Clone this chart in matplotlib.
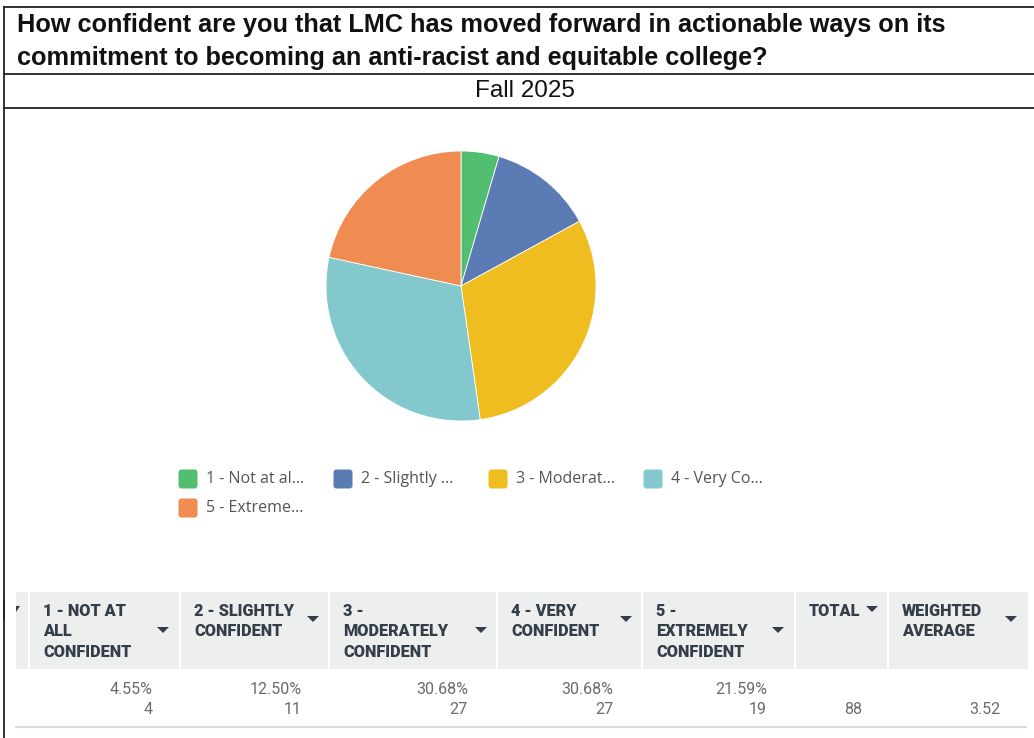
import matplotlib
matplotlib.use("Agg")
import matplotlib.pyplot as plt
from matplotlib.patches import Rectangle, FancyBboxPatch, Polygon

# Survey data
categories = ["1 - Not at all Confident", "2 - Slightly Confident",
              "3 - Moderately Confident", "4 - Very Confident",
              "5 - Extremely Confident"]
legend_labels = ["1 - Not at al...", "2 - Slightly ...", "3 - Moderat...",
                 "4 - Very Co...", "5 - Extreme..."]
counts = [4, 11, 27, 27, 19]
percents = ["4.55%", "12.50%", "30.68%", "30.68%", "21.59%"]
total = 88
weighted_average = 3.52
colors = ["#52BE70", "#5B7BB4", "#EFBD1F", "#83C8CC", "#F08B52"]

header_labels = [["1 - NOT AT", "ALL", "CONFIDENT"],
                 ["2 - SLIGHTLY", "CONFIDENT"],
                 ["3 -", "MODERATELY", "CONFIDENT"],
                 ["4 - VERY", "CONFIDENT"],
                 ["5 -", "EXTREMELY", "CONFIDENT"],
                 ["TOTAL"],
                 ["WEIGHTED", "AVERAGE"]]

title_lines = ["How confident are you that LMC has moved forward in actionable ways on its",
               "commitment to becoming an anti-racist and equitable college?"]
subtitle = "Fall 2025"

W, H = 1034, 738
fig = plt.figure(figsize=(W / 100, H / 100), dpi=100)
canvas = fig.add_axes([0, 0, 1, 1])
canvas.set_xlim(0, W)
canvas.set_ylim(H, 0)
canvas.axis("off")

# Frame lines
line_kw = dict(color="#222222", lw=1.3)
canvas.plot([4, W], [7, 7], **line_kw)
canvas.plot([4, W], [74, 74], **line_kw)
canvas.plot([4, W], [108, 108], **line_kw)
canvas.plot([4, 4], [7, H], **line_kw)

# Title
for i, t in enumerate(title_lines):
    canvas.text(17, 25 + i * 33, t, fontsize=18.2, fontweight="bold",
                family="Liberation Sans", color="#111111", va="center", ha="left")
canvas.text(525, 91, subtitle, fontsize=17.5, family="Liberation Sans",
            color="#111111", va="center", ha="center")

# Pie chart
cx, cy, r = 461, 286, 135
pie_ax = fig.add_axes([(cx - r) / W, 1 - (cy + r) / H, 2 * r / W, 2 * r / H])
pie_ax.pie(counts, colors=colors, startangle=90, counterclock=False,
           wedgeprops=dict(edgecolor="white", linewidth=0.6))
pie_ax.set_aspect("equal")
pie_ax.set_xlim(-1, 1)
pie_ax.set_ylim(-1, 1)

# Legend
leg_x = [178, 333, 488, 643, 178]
leg_y = [479, 479, 479, 479, 508]
for lx, ly, c, lab in zip(leg_x, leg_y, colors, legend_labels):
    canvas.add_patch(FancyBboxPatch((lx + 2, ly - 8), 16, 16,
                                    boxstyle="round,pad=1.5,rounding_size=3",
                                    facecolor=c, edgecolor="none"))
    canvas.text(lx + 28, ly, lab, fontsize=11.5, family="Open Sans",
                color="#555555", va="center", ha="left")

# Table header
hdr_top, hdr_bot = 592, 669
canvas.add_patch(Rectangle((16, hdr_top), 1028 - 16, hdr_bot - hdr_top,
                           facecolor="#EDEEEE", edgecolor="none"))
col_edges = [29, 180, 329, 497, 642, 795, 888, 1028]
for x in col_edges[:-1]:
    canvas.plot([x, x], [hdr_top, hdr_bot], color="white", lw=1.5)
    canvas.plot([x, x], [hdr_bot, 727], color="white", lw=1.5)
canvas.plot([16, 1026], [727, 727], color="#DCDCDC", lw=1.5)

hdr_color = "#333E48"
arrow_x = [163, 313, 481, 626, 778, 872, 1011]
arrow_y = [630, 619, 630, 619, 630, 609, 619]
for i, lines in enumerate(header_labels):
    x0 = col_edges[i] + 14
    for j, line in enumerate(lines):
        canvas.text(x0, 611 + j * 20.5, line, fontsize=11.7, fontweight="heavy",
                    family="Roboto", color=hdr_color, va="center", ha="left")
    ax_, ay_ = arrow_x[i], arrow_y[i]
    canvas.add_patch(Polygon([[ax_ - 6, ay_ - 3], [ax_ + 6, ay_ - 3], [ax_, ay_ + 3]],
                             closed=True, facecolor=hdr_color, edgecolor="none"))
# clipped arrow of the hidden leading column
canvas.add_patch(Polygon([[12, 606], [20, 606], [16, 612]], closed=True,
                         facecolor=hdr_color, edgecolor="none"))
canvas.add_patch(Rectangle((0, 600), 16, 20, facecolor="white", edgecolor="none"))
canvas.plot([4, 4], [600, 620], **line_kw)

# Table values
val_color = "#6B6B6B"
right_x = [153, 302, 468, 613, 767]
for rx, p, n in zip(right_x, percents, counts):
    canvas.text(rx, 689, p, fontsize=11.5, family="Roboto", color=val_color,
                va="center", ha="right")
    canvas.text(rx, 710, str(n), fontsize=11.5, family="Roboto", color=val_color,
                va="center", ha="right")
canvas.text(862, 710, str(total), fontsize=11.5, family="Roboto", color=val_color,
            va="center", ha="right")
canvas.text(1001, 710, f"{weighted_average:.2f}", fontsize=11.5, family="Roboto",
            color=val_color, va="center", ha="right")

fig.savefig("out.png", dpi=100)
